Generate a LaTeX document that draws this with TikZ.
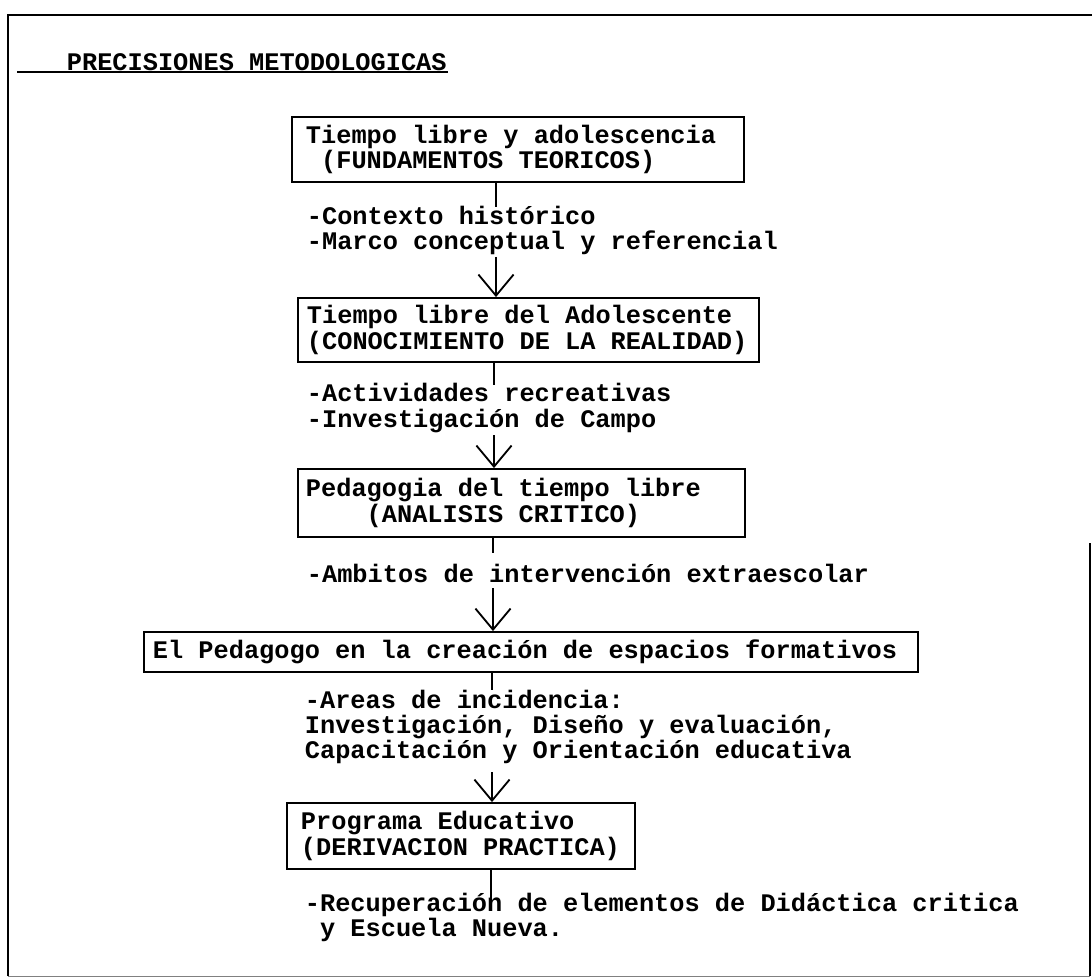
\documentclass[tikz,border=0pt]{standalone}
\usepackage{fontspec}
\setmainfont{Liberation Mono}[WordSpace={1,0,0}]
\usepackage{tikz}
\usetikzlibrary{arrows.meta}

\begin{document}
\begin{tikzpicture}[x=0.025cm,y=-0.025cm,line width=1.3pt,font=\fontsize{18}{18}\selectfont\bfseries,
  bx/.style={draw,align=flush left,inner ysep=0pt,execute at begin node={\spaceskip=0pt\xspaceskip=0pt}},
  items/.style={anchor=west,align=left,inner sep=0pt},
  arr/.style={-{Straight Barb[length=15pt,width=25pt]}}]
\useasboundingbox (0,0) rectangle (1092,978);
\draw (1090,543)--(1090,976) (8,976)--(8,15)--(1092,15);
\draw[thin,gray] (8,976)--(1090,976);
\node[items] (titulo) at (66,62){PRECISIONES METODOLOGICAS};
\coordinate (u) at (17,72);
\draw[line width=1pt] (u)--(u -| titulo.east);
\node[bx,inner xsep=0.35cm,text width=10.6cm,minimum height=1.625cm] (fund) at (518,149.5){Tiempo libre y adolescencia\\\hphantom{x}(FUNDAMENTOS TEORICOS)};
\node[bx,inner xsep=0.225cm,text width=11.075cm,minimum height=1.6cm] (real) at (528.5,330){Tiempo libre del Adolescente\\(CONOCIMIENTO DE LA REALIDAD)};
\node[bx,inner xsep=0.2cm,text width=10.775cm,minimum height=1.7cm] (anal) at (521.5,503){Pedagogia del tiempo libre\\\hphantom{xxxx}(ANALISIS CRITICO)};
\node[bx,inner xsep=0.225cm,text width=18.9cm,minimum height=1cm] (ped) at (531,652){El Pedagogo en la creación de espacios formativos};
\node[bx,inner xsep=0.35cm,text width=8cm,minimum height=1.65cm] (prog) at (461,836){Programa Educativo\\(DERIVACION PRACTICA)};
\node[items] (l1) at (306,230.5){-Contexto histórico\\-Marco conceptual y referencial};
\node[items] (l2) at (306,408){-Actividades recreativas\\-Investigación de Campo};
\node[items] (l3) at (306,573){-Ambitos de intervención extraescolar};
\node[items] (l4) at (304,727){-Areas de incidencia:\\Investigación, Diseño y evaluación,\\Capacitación y Orientación educativa};
\node[items] (l5) at (304,917.5){-Recuperación de elementos de Didáctica critica\\\hphantom{x}y Escuela Nueva.};
\coordinate (s1) at (496,207); \coordinate (a1) at (496,257);
\coordinate (s2) at (494,385); \coordinate (a2) at (494,435);
\coordinate (s3) at (493,553); \coordinate (a3) at (493,588);
\coordinate (s4) at (492,690); \coordinate (a4) at (492,772);
\coordinate (s5) at (491,900);
\draw (fund.south -| s1)--(s1);
\draw[arr] (a1)--(a1 |- real.north);
\draw (real.south -| s2)--(s2);
\draw[arr] (a2)--(a2 |- anal.north);
\draw (anal.south -| s3)--(s3);
\draw[arr] (a3)--(a3 |- ped.north);
\draw (ped.south -| s4)--(s4);
\draw[arr] (a4)--(a4 |- prog.north);
\draw (prog.south -| s5)--(s5);
\end{tikzpicture}
\end{document}
